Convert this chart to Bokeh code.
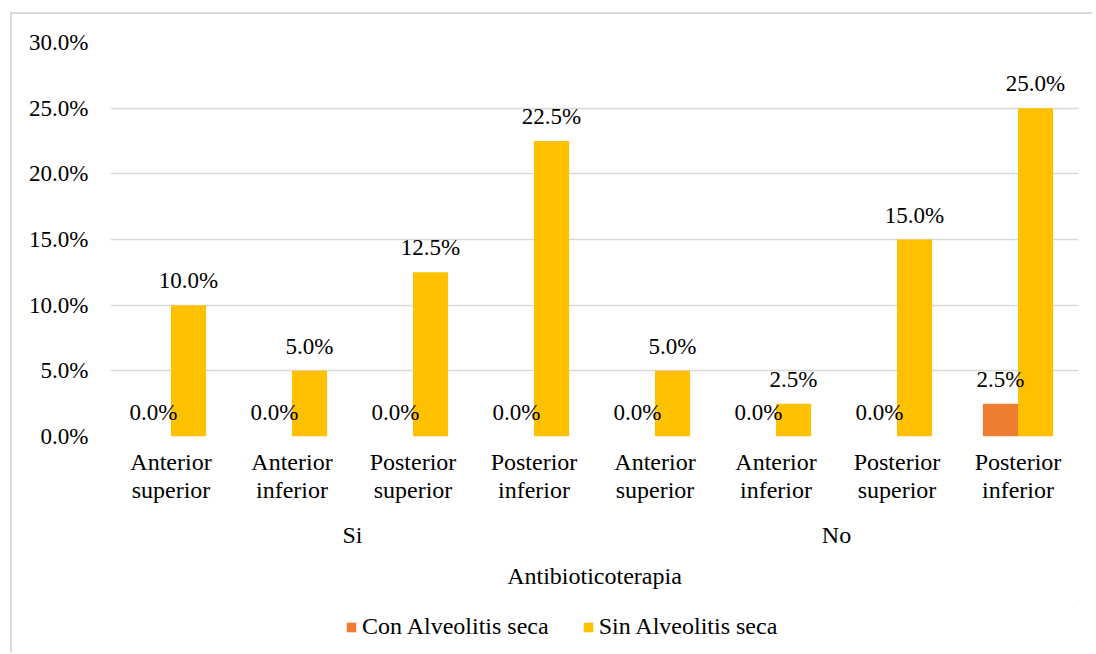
from bokeh.plotting import figure
from bokeh.layouts import column
from bokeh.models import (ColumnDataSource, FixedTicker, LinearAxis, Legend, LegendItem,
                          Range1d, CustomJSTickFormatter)
from bokeh.core.properties import value
from bokeh.embed import file_html
from bokeh.resources import INLINE

# ---- data ----
groups = ["Si", "No"]
locations = ["Anterior superior", "Anterior inferior", "Posterior superior", "Posterior inferior"]
series_names = ["Con Alveolitis seca", "Sin Alveolitis seca"]
con_alveolitis = [0.0, 0.0, 0.0, 0.0, 0.0, 0.0, 0.0, 2.5]
sin_alveolitis = [10.0, 5.0, 12.5, 22.5, 5.0, 2.5, 15.0, 25.0]
y_ticks = [0, 5, 10, 15, 20, 25, 30]
axis_title = "Antibioticoterapia"

FONT = "Liberation Serif"
FS_NUM = "23px"
FS_TXT = "24px"
ORANGE = "#ED7D31"
YELLOW = "#FFC000"
GRID = "#d9d9d9"

n = len(groups) * len(locations)
centers = [i + 0.5 for i in range(n)]
cat_labels = [loc for g in groups for loc in locations]
bw = 0.29
off = bw / 2

src_con = ColumnDataSource(dict(x=[c - off for c in centers], top=con_alveolitis,
                                lab=["%.1f%%" % v for v in con_alveolitis]))
src_sin = ColumnDataSource(dict(x=[c + off for c in centers], top=sin_alveolitis,
                                lab=["%.1f%%" % v for v in sin_alveolitis]))

W = 1080
p = figure(width=W, height=586, output_backend="svg", toolbar_location=None,
           x_range=Range1d(0, n), y_range=Range1d(0, 30),
           min_border_left=98, min_border_right=14, min_border_top=28, min_border_bottom=164,
           x_axis_location=None)
p.outline_line_color = None
p.background_fill_color = "white"
p.border_fill_color = "white"

# bars
r_con = p.vbar(x="x", top="top", width=bw, bottom=0, source=src_con, fill_color=ORANGE, line_color=None)
r_sin = p.vbar(x="x", top="top", width=bw, bottom=0, source=src_sin, fill_color=YELLOW, line_color=None)

# data labels
for src in (src_con, src_sin):
    p.text(x="x", y="top", text="lab", source=src, text_align="center", text_baseline="bottom",
           y_offset=-12, text_font=value(FONT), text_font_size=FS_NUM, text_color="black")

# y axis
p.yaxis.ticker = FixedTicker(ticks=y_ticks)
p.yaxis.formatter = CustomJSTickFormatter(code="return tick.toFixed(1) + '%';")
p.yaxis.axis_line_color = None
p.yaxis.major_tick_line_color = None
p.yaxis.minor_tick_line_color = None
p.yaxis.major_label_standoff = 16
p.yaxis.major_label_text_font = FONT
p.yaxis.major_label_text_font_size = FS_NUM
p.yaxis.major_label_text_color = "black"

p.ygrid.ticker = FixedTicker(ticks=y_ticks)
p.ygrid.grid_line_color = GRID
p.ygrid.grid_line_width = 1.5
p.xgrid.grid_line_color = None

# category axis
ax1 = LinearAxis(ticker=FixedTicker(ticks=centers),
                 major_label_overrides={c: lab.replace(" ", "\n") for c, lab in zip(centers, cat_labels)})
ax2 = LinearAxis(ticker=FixedTicker(ticks=[2, 6]),
                 major_label_overrides={2: groups[0], 6: groups[1]},
                 axis_label=axis_title)
for ax in (ax1, ax2):
    ax.axis_line_color = None
    ax.major_tick_line_color = None
    ax.minor_tick_line_color = None
    ax.major_label_text_font = FONT
    ax.major_label_text_font_size = FS_TXT
    ax.major_label_text_color = "black"
    ax.major_label_orientation = "horizontal"
    ax.axis_label_text_font = FONT
    ax.axis_label_text_font_size = FS_TXT
    ax.axis_label_text_font_style = "normal"
    ax.axis_label_text_color = "black"
ax1.major_label_standoff = 6
ax1.major_label_text_line_height = 1.08
ax2.major_label_standoff = 10
ax2.axis_label_standoff = 12
p.add_layout(ax1, "below")
p.add_layout(ax2, "below")

# legend strip: swatch renderers use the same data with zero height, so nothing is drawn but the swatches
p2 = figure(width=W, height=52, output_backend="svg", toolbar_location=None,
            x_range=Range1d(-20, -19), y_range=Range1d(0, 1),
            min_border=0, x_axis_location=None, y_axis_location=None)
p2.outline_line_color = None
p2.grid.grid_line_color = None
l_con = p2.vbar(x="x", top="top", bottom="top", width=bw, source=src_con, fill_color=ORANGE, line_color=None)
l_sin = p2.vbar(x="x", top="top", bottom="top", width=bw, source=src_sin, fill_color=YELLOW, line_color=None)
legend = Legend(items=[LegendItem(label=series_names[0], renderers=[l_con]),
                       LegendItem(label=series_names[1], renderers=[l_sin])],
                orientation="horizontal", location=(235, 12),
                label_text_font=FONT, label_text_font_size=FS_TXT, label_text_color="black",
                glyph_width=12, glyph_height=12, label_standoff=5, spacing=33,
                border_line_color=None, background_fill_alpha=0, padding=0, margin=0)
p2.add_layout(legend, "center")

root = column(p, p2, spacing=0)
root.margin = (12, 0, 0, 10)
root.styles = {"border-left": "2px solid #d9d9d9", "border-top": "2px solid #d9d9d9"}

open("out.html", "w").write(file_html(root, INLINE))
